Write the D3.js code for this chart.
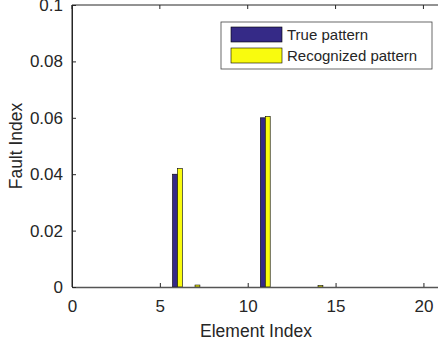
<!DOCTYPE html>
<html>
<head>
<meta charset="utf-8">
<script src="https://cdn.jsdelivr.net/npm/d3@7"></script>
<style>
  html, body { margin: 0; padding: 0; background: #fff; }
  #chart-container { width: 438px; height: 343px; overflow: hidden; }
  text { font-family: "Liberation Sans", Arial, sans-serif; }
</style>
</head>
<body>
<div id="chart-container"></div>
<script>
const elements = d3.range(1, 21);
const trueValues = [0, 0, 0, 0, 0, 0.04, 0, 0, 0, 0, 0.06, 0, 0, 0, 0, 0, 0, 0, 0, 0];
const recognizedValues = [0, 0, 0, 0, 0, 0.042, 0.0007, 0, 0, 0, 0.0605, 0, 0, 0.0005, 0, 0, 0, 0, 0, 0];
const seriesNames = ['True pattern', 'Recognized pattern'];
const xTicks = [0, 5, 10, 15, 20];
const yTicks = [0, 0.02, 0.04, 0.06, 0.08, 0.1];

const width = 438;
const height = 343;
const margin = { top: 5, right: -3, bottom: 56, left: 72 };
const colors = ['#352a87', '#f9fb0e'];
const textColor = '#262626';

const svg = d3.select('#chart-container')
  .append('svg')
  .attr('width', width)
  .attr('height', height);

const x = d3.scaleLinear().domain([0, 21]).range([margin.left, width - margin.right]);
const y = d3.scaleLinear().domain([0, 0.1]).range([height - margin.bottom, margin.top]);

const series = [trueValues, recognizedValues];
const groupWidth = 0.56;
const inner = d3.scaleBand().domain([0, 1]).range([-groupWidth / 2, groupWidth / 2]);

const rows = [];
series.forEach((vals, s) => {
  vals.forEach((v, i) => rows.push({ s, e: elements[i], v }));
});

// bars
svg.append('g')
  .selectAll('rect')
  .data(rows.filter(d => d.v > 0))
  .enter()
  .append('rect')
  .attr('x', d => x(d.e + inner(d.s)))
  .attr('width', d => x(inner.bandwidth()) - x(0))
  .attr('y', d => y(d.v))
  .attr('height', d => y(0) - y(d.v))
  .style('fill', d => colors[d.s])
  .style('stroke', '#000')
  .style('stroke-width', 0.6);

// box
const x0 = x.range()[0], x1 = x.range()[1];
const y0 = y.range()[0], y1 = y.range()[1];
svg.append('line').attr('x1', x0).attr('x2', x1).attr('y1', y1).attr('y2', y1)
  .style('stroke', textColor).style('stroke-width', 1);
svg.append('line').attr('x1', x0).attr('x2', x0).attr('y1', y0).attr('y2', y1)
  .style('stroke', textColor).style('stroke-width', 1);
svg.append('line').attr('x1', x1).attr('x2', x1).attr('y1', y0).attr('y2', y1)
  .style('stroke', textColor).style('stroke-width', 1);

// x axis
const xAxis = svg.append('g')
  .attr('transform', `translate(0,${y0})`)
  .call(d3.axisBottom(x).tickValues(xTicks).tickSizeInner(-4).tickSizeOuter(0).tickPadding(13));
xAxis.select('.domain').style('stroke', '#555').style('stroke-width', 1.6);
xAxis.selectAll('.tick line').style('stroke', textColor);
xAxis.selectAll('text').style('font-size', '17px').style('fill', textColor);

// top ticks
svg.append('g')
  .selectAll('line')
  .data(xTicks)
  .enter()
  .append('line')
  .attr('x1', d => x(d)).attr('x2', d => x(d))
  .attr('y1', y1).attr('y2', y1 + 4)
  .style('stroke', textColor);

// y axis
const yAxis = svg.append('g')
  .attr('transform', `translate(${x0},0)`)
  .call(d3.axisLeft(y).tickValues(yTicks).tickFormat(d3.format('~g')).tickSizeInner(-4).tickSizeOuter(0).tickPadding(9));
yAxis.select('.domain').style('stroke', textColor);
yAxis.selectAll('.tick line').style('stroke', textColor);
yAxis.selectAll('text').style('font-size', '17px').style('fill', textColor);

// axis titles
svg.append('text')
  .attr('x', 256)
  .attr('y', 337)
  .attr('text-anchor', 'middle')
  .style('font-size', '17.5px')
  .style('fill', textColor)
  .text('Element Index');

svg.append('text')
  .attr('transform', `translate(22,${(y0 + y1) / 2}) rotate(-90)`)
  .attr('text-anchor', 'middle')
  .style('font-size', '17.5px')
  .style('fill', textColor)
  .text('Fault Index');

// legend
const legend = svg.append('g').attr('transform', 'translate(221,22)');
legend.append('rect')
  .attr('width', 211).attr('height', 47)
  .style('fill', '#fff').style('stroke', '#444').style('stroke-width', 0.8);
seriesNames.forEach((name, i) => {
  legend.append('rect')
    .attr('x', 10).attr('y', 5 + i * 21)
    .attr('width', 51).attr('height', 15)
    .style('fill', colors[i]).style('stroke', '#000').style('stroke-width', 0.6);
  legend.append('text')
    .attr('x', 66).attr('y', 13 + i * 21)
    .attr('dy', '0.35em')
    .style('font-size', '15px')
    .style('fill', textColor)
    .text(name);
});
</script>
</body>
</html>
